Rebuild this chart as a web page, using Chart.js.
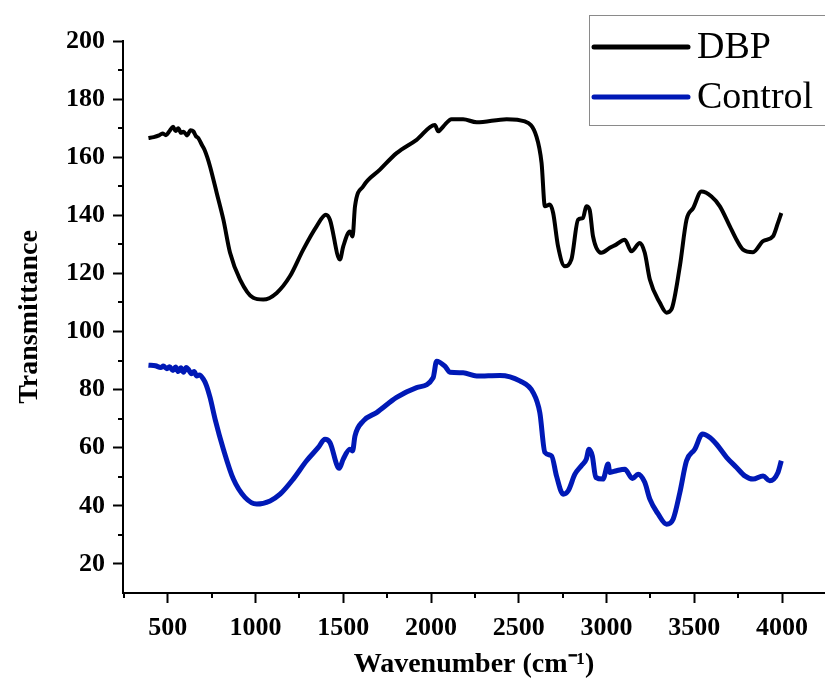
<!DOCTYPE html>
<html>
<head>
<meta charset="utf-8">
<title>FTIR - DBP vs Control</title>
<script src="https://cdn.jsdelivr.net/npm/chart.js@4.4.1/dist/chart.umd.min.js"></script>
<style>
    body { margin: 0; background: #ffffff; }
    #ftirChart { display: block; }
</style>
</head>
<body>
<canvas id="ftirChart" width="825" height="686"></canvas>
<script>
// Axis ticks
const xTicks = [500, 1000, 1500, 2000, 2500, 3000, 3500, 4000];
const xMinorTicks = [250, 750, 1250, 1750, 2250, 2750, 3250, 3750];
const yTicks = [20, 40, 60, 80, 100, 120, 140, 160, 180, 200];
const yMinorTicks = [30, 50, 70, 90, 110, 130, 150, 170, 190];

// DBP spectrum
const dbpWavenumber = [390, 420, 450, 470, 490, 510, 530, 545, 560, 575, 590, 610, 630, 646, 660, 675, 694, 710, 725, 741, 779, 817, 855, 912, 987, 1044, 1121, 1196, 1272, 1348, 1401, 1424, 1481, 1500, 1538, 1553, 1567, 1614, 1709, 1804, 1918, 2022, 2041, 2070, 2117, 2183, 2260, 2431, 2535, 2601, 2630, 2649, 2677, 2696, 2724, 2762, 2800, 2838, 2866, 2885, 2904, 2923, 2971, 3019, 3057, 3104, 3142, 3190, 3218, 3247, 3304, 3342, 3370, 3418, 3456, 3494, 3541, 3598, 3646, 3703, 3741, 3778, 3835, 3892, 3949, 3977, 3996];
const dbpTransmittance = [166.6, 166.9, 167.5, 168.2, 167.6, 169.0, 170.5, 169.0, 170.0, 168.4, 168.8, 167.5, 169.3, 168.9, 167.3, 166.5, 164.3, 162.5, 160.0, 156.8, 147.7, 138.5, 127.1, 117.9, 111.6, 111.0, 113.3, 119.0, 128.2, 136.2, 140.2, 138.5, 124.8, 129.3, 134.4, 132.7, 143.1, 150.0, 155.7, 161.4, 166.0, 171.1, 168.9, 170.6, 173.1, 173.1, 172.0, 173.1, 172.3, 167.1, 158.0, 143.1, 143.7, 140.8, 129.3, 122.5, 124.8, 138.5, 139.1, 143.1, 141.9, 132.8, 127.1, 128.8, 130.0, 131.6, 127.6, 130.5, 127.1, 117.9, 109.9, 106.5, 107.6, 122.5, 138.5, 142.5, 148.2, 146.5, 143.1, 136.2, 131.6, 128.2, 127.3, 131.1, 132.8, 137.4, 140.8];

// Control spectrum
const controlWavenumber = [390, 430, 460, 475, 495, 510, 530, 545, 560, 575, 590, 605, 617, 635, 650, 665, 680, 703, 720, 741, 770, 817, 874, 940, 1007, 1083, 1140, 1215, 1291, 1358, 1396, 1424, 1477, 1500, 1538, 1553, 1567, 1614, 1690, 1804, 1918, 2012, 2032, 2079, 2108, 2183, 2260, 2393, 2506, 2582, 2620, 2649, 2687, 2715, 2753, 2782, 2820, 2857, 2885, 2900, 2919, 2939, 2980, 3009, 3019, 3057, 3104, 3148, 3180, 3218, 3247, 3294, 3342, 3380, 3418, 3456, 3503, 3547, 3589, 3627, 3684, 3741, 3788, 3835, 3892, 3930, 3977, 3996];
const controlTransmittance = [88.4, 88.2, 87.6, 88.1, 87.2, 87.9, 86.6, 87.8, 86.2, 87.5, 86.0, 87.6, 87.0, 85.5, 86.2, 84.7, 85.0, 83.6, 81.5, 77.3, 69.8, 59.5, 49.2, 42.9, 40.6, 41.7, 44.0, 49.2, 55.5, 60.1, 62.9, 61.8, 52.9, 56.1, 59.5, 58.9, 64.1, 69.2, 72.1, 77.3, 80.7, 84.1, 89.8, 88.1, 86.0, 85.8, 84.7, 84.9, 83.0, 79.0, 72.1, 58.4, 57.2, 50.3, 44.0, 45.2, 50.9, 53.8, 56.1, 59.5, 57.2, 49.8, 49.2, 54.4, 51.5, 52.1, 52.6, 49.4, 50.9, 48.1, 42.3, 37.2, 33.7, 35.5, 44.6, 55.5, 59.5, 64.7, 63.5, 61.2, 56.7, 53.2, 50.3, 49.2, 50.3, 48.6, 51.5, 55.5];

const serif = "'Liberation Serif', 'Times New Roman', serif";
Chart.defaults.font.family = serif;
Chart.defaults.color = '#000';

// minor tick marks, drawn through the scales
const minorTicks = {
    id: 'minorTicks',
    afterDraw(chart) {
        const ctx = chart.ctx;
        const xs = chart.scales.x, ys = chart.scales.y;
        ctx.save();
        ctx.strokeStyle = '#000';
        ctx.lineWidth = 2;
        ctx.beginPath();
        xMinorTicks.forEach(v => {
            if (v < xs.min || v > xs.max) return;
            const px = Math.round(xs.getPixelForValue(v));
            ctx.moveTo(px, xs.top);
            ctx.lineTo(px, xs.top + 5);
        });
        yMinorTicks.forEach(v => {
            const py = Math.round(ys.getPixelForValue(v));
            ctx.moveTo(ys.right, py);
            ctx.lineTo(ys.right - 5, py);
        });
        ctx.stroke();
        ctx.restore();
    }
};

// boxed legend in the top right corner
const boxLegend = {
    id: 'boxLegend',
    afterDraw(chart) {
        const ctx = chart.ctx;
        ctx.save();
        ctx.fillStyle = '#fff';
        ctx.fillRect(589, 15, 250, 110);
        ctx.strokeStyle = '#8a8a8a';
        ctx.lineWidth = 1;
        ctx.strokeRect(589.5, 15.5, 250, 110);
        const rows = [58, 108];
        chart.data.datasets.forEach((ds, i) => {
            const y = rows[i];
            ctx.strokeStyle = ds.borderColor;
            ctx.lineWidth = 5;
            ctx.lineCap = 'round';
            ctx.beginPath();
            ctx.moveTo(594, y - 11);
            ctx.lineTo(688, y - 11);
            ctx.stroke();
            ctx.fillStyle = '#000';
            ctx.font = '38px ' + serif;
            ctx.textBaseline = 'alphabetic';
            ctx.fillText(ds.label, 697, y);
        });
        ctx.restore();
    }
};

new Chart(document.getElementById('ftirChart'), {
    type: 'line',
    data: {
        datasets: [{
            label: 'DBP',
            data: dbpWavenumber.map((x, i) => ({ x: x, y: dbpTransmittance[i] })),
            borderColor: '#000000',
            borderWidth: 4,
            pointRadius: 0,
            cubicInterpolationMode: 'monotone'
        }, {
            label: 'Control',
            data: controlWavenumber.map((x, i) => ({ x: x, y: controlTransmittance[i] })),
            borderColor: '#0019b6',
            borderWidth: 5,
            pointRadius: 0,
            cubicInterpolationMode: 'monotone'
        }]
    },
    options: {
        responsive: false,
        animation: false,
        devicePixelRatio: 1,
        layout: { padding: { top: 41, left: 0, right: 0, bottom: 0 } },
        plugins: {
            legend: { display: false },
            tooltip: { enabled: false }
        },
        scales: {
            x: {
                type: 'linear',
                min: 245,
                max: 4245,
                afterBuildTicks: s => { s.ticks = xTicks.map(v => ({ value: v })); },
                afterFit: s => { s.height = 93; },
                border: { display: true, color: '#000', width: 2 },
                grid: { drawOnChartArea: false, drawTicks: true, tickLength: 10, tickColor: '#000', tickWidth: 2 },
                ticks: {
                    autoSkip: false,
                    maxRotation: 0,
                    padding: 10,
                    font: { size: 26, weight: 'bold' },
                    color: '#000',
                    callback: v => String(v)
                },
                title: {
                    display: true,
                    text: 'Wavenumber (cm⁻¹)',
                    font: { size: 28, weight: 'bold' },
                    color: '#000',
                    padding: { top: 0, bottom: 4 }
                }
            },
            y: {
                min: 10,
                max: 200,
                afterBuildTicks: s => { s.ticks = yTicks.map(v => ({ value: v })); },
                afterFit: s => { s.width = 123; },
                border: { display: true, color: '#000', width: 2 },
                grid: { drawOnChartArea: false, drawTicks: true, tickLength: 10, tickColor: '#000', tickWidth: 2 },
                ticks: {
                    autoSkip: false,
                    padding: 8,
                    font: { size: 26, weight: 'bold' },
                    color: '#000',
                    callback: v => String(v)
                },
                title: {
                    display: true,
                    text: 'Transmittance',
                    font: { size: 28, weight: 'bold' },
                    color: '#000',
                    padding: { top: 13, bottom: 0 }
                }
            }
        }
    },
    plugins: [minorTicks, boxLegend]
});
</script>
</body>
</html>
